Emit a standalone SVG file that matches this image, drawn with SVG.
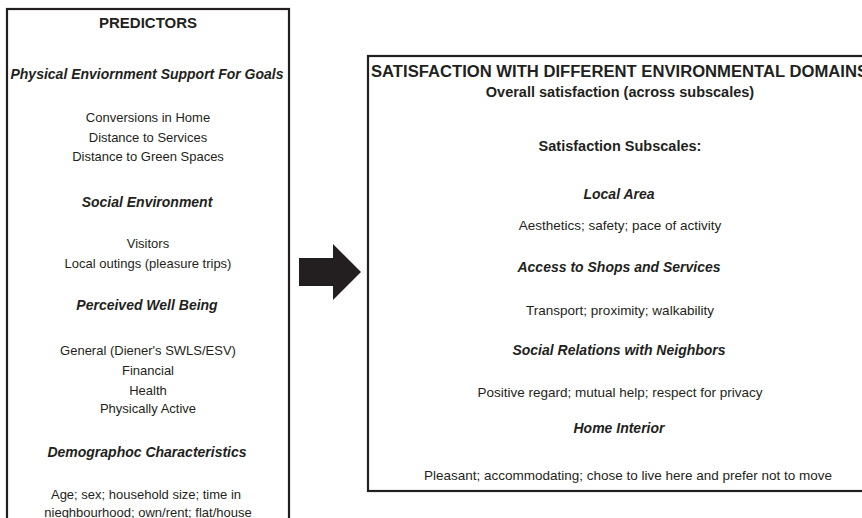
<svg xmlns="http://www.w3.org/2000/svg" width="862" height="518" viewBox="0 0 862 518">
<style>
.box{fill:#fff;stroke:#231f20;stroke-width:2.2}
text{font-family:"Liberation Sans",Arial,sans-serif;fill:#231f20;text-anchor:middle}
.t{font-size:15px;font-weight:bold}
.h{font-size:14px;font-weight:bold;font-style:italic}
.b{font-size:14.5px;font-weight:bold}
.r{font-size:13px}
.rs{font-size:13.5px}
</style>
<rect width="862" height="518" fill="#fff"/>
<g id="predictors">
<rect class="box" x="7" y="9" width="282" height="520"/>
<text class="t" x="148" y="28">PREDICTORS</text>
<text class="h" x="147" y="79">Physical Enviornment Support For Goals</text>
<text class="r" x="148" y="122">Conversions in Home</text>
<text class="r" x="148" y="142">Distance to Services</text>
<text class="r" x="148" y="161">Distance to Green Spaces</text>
<text class="h" x="147" y="207">Social Environment</text>
<text class="r" x="148" y="248">Visitors</text>
<text class="r" x="148" y="268">Local outings (pleasure trips)</text>
<text class="h" x="147" y="310">Perceived Well Being</text>
<text class="r" x="148" y="355">General (Diener's SWLS/ESV)</text>
<text class="r" x="148" y="375">Financial</text>
<text class="r" x="148" y="395">Health</text>
<text class="r" x="148" y="413">Physically Active</text>
<text class="h" x="147" y="457">Demographoc Characteristics</text>
<text class="r" x="146" y="499">Age; sex; household size; time in</text>
<text class="r" x="148" y="517">nieghbourhood; own/rent; flat/house</text>
</g>
<g id="connectors">
<polygon points="299,258 333,258 333,244 361,272 333,300 333,286 299,286" fill="#231f20"/>
</g>
<g id="satisfaction">
<rect class="box" x="368" y="56" width="506" height="435"/>
<text class="t" x="371" y="77" style="text-anchor:start;font-size:16px" textLength="497" lengthAdjust="spacingAndGlyphs">SATISFACTION WITH DIFFERENT ENVIRONMENTAL DOMAINS</text>
<text class="b" x="620" y="97">Overall satisfaction (across subscales)</text>
<text class="b" x="620" y="151">Satisfaction Subscales:</text>
<text class="h" x="619" y="199">Local Area</text>
<text class="rs" x="620" y="230">Aesthetics; safety; pace of activity</text>
<text class="h" x="619" y="272">Access to Shops and Services</text>
<text class="rs" x="620" y="315">Transport; proximity; walkability</text>
<text class="h" x="619" y="355">Social Relations with Neighbors</text>
<text class="rs" x="620" y="397">Positive regard; mutual help; respect for privacy</text>
<text class="h" x="619" y="433">Home Interior</text>
<text class="rs" x="628" y="480">Pleasant; accommodating; chose to live here and prefer not to move</text>
</g>
</svg>
